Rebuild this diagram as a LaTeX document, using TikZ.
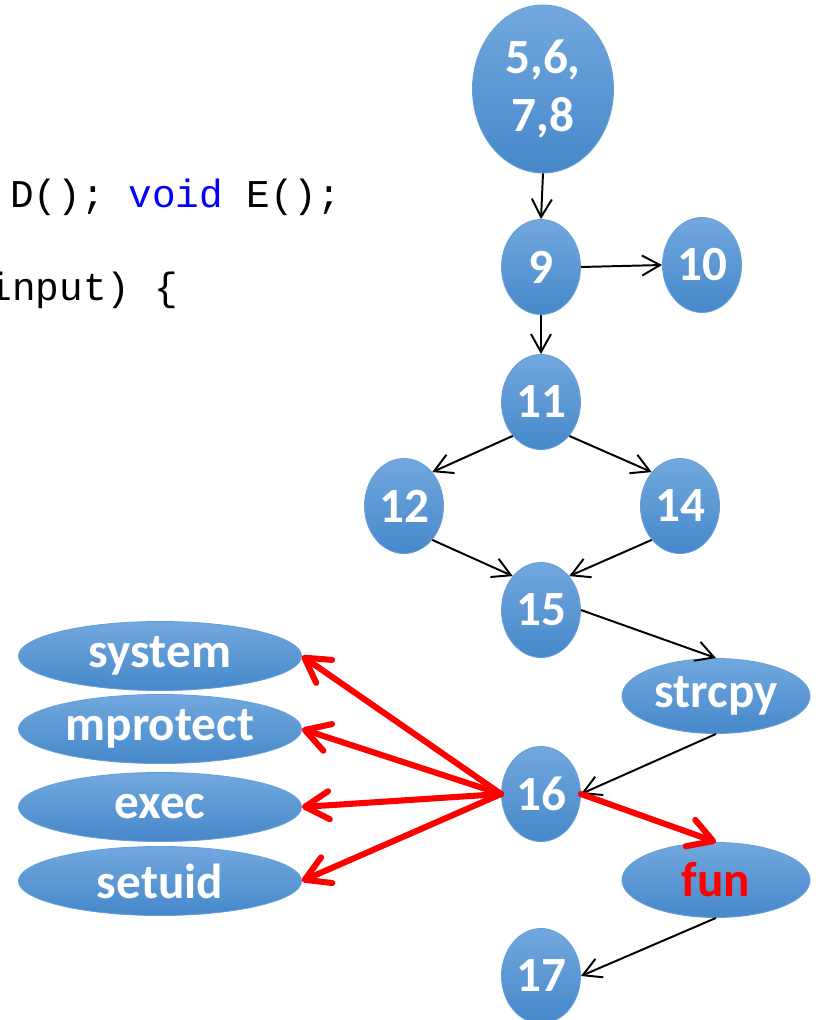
\documentclass[tikz,border=0pt]{standalone}
\usepackage{fontspec}
\setmainfont{Carlito}
\newfontfamily\codefont{Liberation Mono}
\usetikzlibrary{arrows.meta, shapes.geometric}
\definecolor{nodetop}{RGB}{114,168,222}
\definecolor{nodebottom}{RGB}{70,136,202}
\definecolor{nodeedge}{RGB}{104,158,215}
\definecolor{codeblue}{RGB}{0,0,255}
\definecolor{callred}{RGB}{255,0,0}

\begin{document}
\begin{tikzpicture}[
    x=0.025cm, y=-0.025cm,
    cfgnode/.style={ellipse, inner sep=0pt, top color=nodetop, bottom color=nodebottom, draw=nodeedge, line width=0.6pt, text=white, font=\fontsize{35}{41}\selectfont\bfseries, align=center},
    stmt/.style={cfgnode, minimum width=1.975cm, minimum height=2.375cm},
    call/.style={cfgnode, minimum width=4.7cm, minimum height=1.875cm},
    sink/.style={cfgnode, minimum width=7.075cm, minimum height=1.725cm},
    codetext/.style={inner sep=0pt, font=\codefont\fontsize{28}{32}\selectfont},
    arrow/.style={-{Straight Barb[length=4.5mm, width=5mm]}, line width=1.4pt, black},
    redarrow/.style={-{Straight Barb[length=6mm, width=7mm, round]}, line width=4.3pt, callred, line cap=round}
]
\useasboundingbox (0,0) rectangle (817,1020);
\clip (0,0) rectangle (817,1020);

% code fragment
\node[codetext, anchor=base west] (code1) at (10,207) {D(); \textcolor{codeblue}{void} E();};
\node[codetext, anchor=base east] (code2) at (178,300) {input) \{};

% control flow nodes
\node[cfgnode, minimum width=3.525cm, minimum height=4.2cm] (n5) at (543,89) {5,6,\\7,8};
\node[stmt] (n9) at (541,267) {9};
\node[stmt] (n10) at (702,265) {10};
\node[stmt] (n11) at (541,402) {11};
\node[stmt] (n12) at (404,506) {12};
\node[stmt] (n14) at (680,506) {14};
\node[stmt] (n15) at (541,610) {15};
\node[call] (strcpy) at (716,696) {strcpy};
\node[stmt] (n16) at (541,794) {16};
\node[call, text=callred] (fun) at (716,880) {fun};
\node[stmt] (n17) at (541,976) {17};

% sensitive calls
\node[sink] (system) at (160,656) {system};
\node[sink] (mprotect) at (160,729) {mprotect};
\node[sink] (exec) at (160,807) {exec};
\node[sink] (setuid) at (160,881) {setuid};

% flow edges
\draw[arrow] (n5.south) -- (n9.north);
\draw[arrow] (n9.east) -- (n10.west);
\draw[arrow] (n9.south) -- (n11.north);
\draw[arrow] (n11.south west) -- (n12.north east);
\draw[arrow] (n11.south east) -- (n14.north west);
\draw[arrow] (n12.south east) -- (n15.north west);
\draw[arrow] (n14.south west) -- (n15.north east);
\draw[arrow] (n15.east) -- (strcpy.north);
\draw[arrow] (strcpy.south) -- (n16.east);
\draw[arrow] (fun.south) -- (n17.east);

% red call edges
\draw[redarrow] (n16.east) -- (fun.north);
\draw[redarrow] (n16.west) -- (system.east);
\draw[redarrow] (n16.west) -- (mprotect.east);
\draw[redarrow] (n16.west) -- (exec.east);
\draw[redarrow] (n16.west) -- (setuid.east);

\end{tikzpicture}
\end{document}
